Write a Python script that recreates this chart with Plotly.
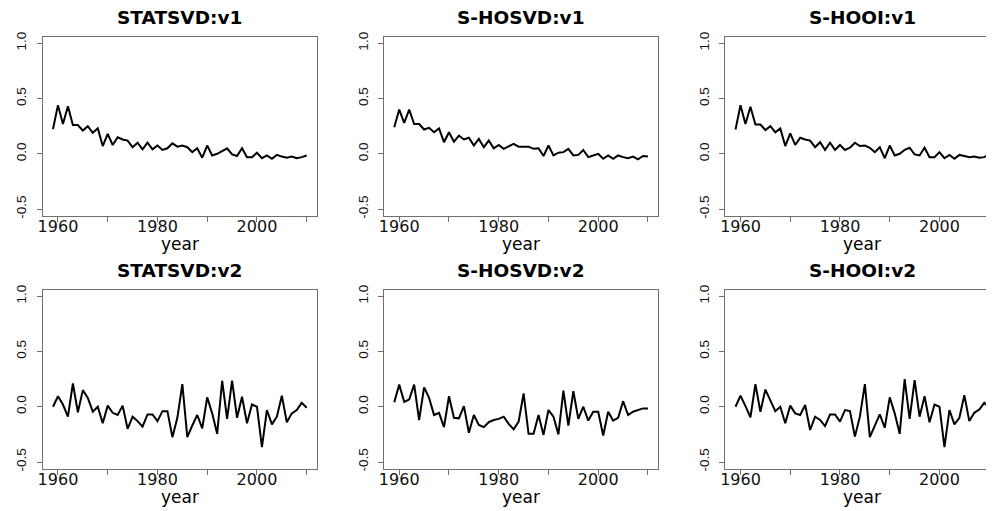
import plotly.graph_objects as go

years = list(range(1959, 2011))

statsvd_v1 = [0.223, 0.44, 0.27, 0.43, 0.26, 0.26, 0.21, 0.25, 0.19, 0.23,
              0.07, 0.18, 0.08, 0.15, 0.13, 0.12, 0.06, 0.10, 0.04, 0.10,
              0.04, 0.075, 0.035, 0.05, 0.095, 0.065, 0.075, 0.06, 0.015, 0.05,
              -0.035, 0.075, -0.015, 0.0, 0.025, 0.05, -0.005, -0.02, 0.05, -0.03,
              -0.03, 0.01, -0.04, -0.015, -0.045, -0.01, -0.025, -0.035, -0.025, -0.04,
              -0.03, -0.015]
shosvd_v1 = [0.24, 0.40, 0.28, 0.40, 0.27, 0.27, 0.22, 0.235, 0.195, 0.23,
             0.105, 0.195, 0.11, 0.165, 0.13, 0.145, 0.075, 0.135, 0.06, 0.12,
             0.05, 0.08, 0.045, 0.065, 0.09, 0.065, 0.065, 0.065, 0.045, 0.05,
             -0.02, 0.075, -0.015, 0.01, 0.015, 0.045, -0.015, -0.01, 0.035, -0.03,
             -0.015, 0.0, -0.045, -0.015, -0.045, -0.015, -0.03, -0.04, -0.025, -0.05,
             -0.02, -0.025]
shooi_v1 = [0.22, 0.44, 0.27, 0.425, 0.265, 0.265, 0.215, 0.25, 0.195, 0.23,
            0.07, 0.185, 0.08, 0.145, 0.13, 0.12, 0.06, 0.105, 0.035, 0.10,
            0.035, 0.08, 0.035, 0.055, 0.10, 0.07, 0.075, 0.055, 0.015, 0.06,
            -0.04, 0.075, -0.015, 0.0, 0.035, 0.055, -0.005, -0.015, 0.055, -0.03,
            -0.03, 0.015, -0.04, -0.01, -0.045, -0.01, -0.02, -0.03, -0.025, -0.035,
            -0.03, -0.005]
statsvd_v2 = [0.0, 0.095, 0.02, -0.09, 0.21, -0.05, 0.15, 0.08, -0.045, 0.0,
              -0.15, 0.01, -0.055, -0.075, 0.01, -0.20, -0.09, -0.13, -0.18, -0.07,
              -0.07, -0.13, -0.04, -0.04, -0.275, -0.10, 0.205, -0.275, -0.17, -0.075,
              -0.195, 0.085, -0.06, -0.245, 0.235, -0.11, 0.235, -0.10, 0.09, -0.15,
              0.02, 0.0, -0.365, -0.03, -0.16, -0.09, 0.10, -0.14, -0.06, -0.03,
              0.035, -0.01]
shosvd_v2 = [0.04, 0.20, 0.045, 0.065, 0.20, -0.12, 0.175, 0.08, -0.075, -0.055,
             -0.185, 0.095, -0.10, -0.105, 0.005, -0.235, -0.075, -0.165, -0.185, -0.14,
             -0.12, -0.11, -0.09, -0.155, -0.205, -0.135, 0.12, -0.245, -0.245, -0.075,
             -0.255, -0.03, -0.09, -0.25, 0.145, -0.17, 0.14, -0.11, 0.0, -0.125,
             -0.045, -0.045, -0.26, -0.045, -0.125, -0.10, 0.05, -0.075, -0.045, -0.03,
             -0.015, -0.015]
shooi_v2 = [0.0, 0.10, 0.005, -0.095, 0.205, -0.045, 0.155, 0.065, -0.04, 0.0,
            -0.15, 0.01, -0.06, -0.075, 0.015, -0.21, -0.09, -0.12, -0.175, -0.07,
            -0.07, -0.135, -0.03, -0.04, -0.27, -0.09, 0.205, -0.275, -0.165, -0.07,
            -0.19, 0.085, -0.06, -0.245, 0.25, -0.11, 0.24, -0.09, 0.095, -0.14,
            0.02, 0.0, -0.365, -0.03, -0.16, -0.10, 0.105, -0.13, -0.055, -0.025,
            0.035, -0.01]

titles = ["STATSVD:v1", "S-HOSVD:v1", "S-HOOI:v1",
          "STATSVD:v2", "S-HOSVD:v2", "S-HOOI:v2"]
series = [statsvd_v1, shosvd_v1, shooi_v1, statsvd_v2, shosvd_v2, shooi_v2]

x_tickvals = [1960, 1970, 1980, 1990, 2000, 2010]
x_ticktext = ["1960", "", "1980", "", "2000", ""]
y_tickvals = [-0.5, 0.0, 0.5, 1.0]
y_ticktext = ["-0.5", "0.0", "0.5", "1.0"]
x_label = "year"

# page is rendered with an 8px body margin: work in page pixels, shift by OFF
OFF = 8
PAGE_W, PAGE_H = 994, 511
W, H = PAGE_W - OFF, PAGE_H - OFF
PX_PER_YEAR = 5.0
X0, X1 = 1956.96, 2012.04
col_left = [38, 381, 724]       # page px
row_top = [32, 289]             # page px
box_h = 182
YR = [-0.56, 1.06]


def fx(px):
    return (px - OFF) / W


def fy(py):
    return 1 - (py - OFF) / H


fig = go.Figure()
axcol = "#707070"
for i, (t, ys) in enumerate(zip(titles, series)):
    r, c = divmod(i, 3)
    left = col_left[c]
    full_right = left + (X1 - X0) * PX_PER_YEAR
    right = min(full_right, PAGE_W)
    xmax = X0 + (right - left) / PX_PER_YEAR
    top = row_top[r]
    bot = top + box_h
    n = i + 1
    xa = "x" if n == 1 else f"x{n}"
    ya = "y" if n == 1 else f"y{n}"
    fig.add_trace(go.Scatter(x=years, y=ys, mode="lines",
                             line=dict(color="black", width=2),
                             xaxis=xa, yaxis=ya, showlegend=False,
                             hoverinfo="skip"))
    xkey = "xaxis" if n == 1 else f"xaxis{n}"
    ykey = "yaxis" if n == 1 else f"yaxis{n}"
    fig.update_layout({
        xkey: dict(domain=[fx(left), min(fx(right), 1.0)], anchor=ya,
                   range=[X0, xmax],
                   showgrid=False, zeroline=False, showline=True,
                   linecolor=axcol, linewidth=1.2, mirror=True,
                   ticks="outside", ticklen=5, tickwidth=1, tickcolor=axcol,
                   tickvals=x_tickvals, ticktext=x_ticktext,
                   tickfont=dict(family="DejaVu Sans", size=16, color="#111"),
                   ticklabelstandoff=-9),
        ykey: dict(domain=[fy(bot), fy(top)], anchor=xa, range=YR,
                   showgrid=False, zeroline=False, showline=True,
                   linecolor=axcol, linewidth=1.2, mirror=(c != 2),
                   ticks="outside", ticklen=5, tickwidth=1, tickcolor=axcol,
                   tickvals=y_tickvals, ticktext=y_ticktext, tickangle=-90,
                   tickfont=dict(family="Liberation Sans", size=13.5, color="#111"),
                   ticklabelstandoff=5),
    })
    cx = fx((left + full_right) / 2)
    fig.add_annotation(text=f"<b>{t}</b>", x=cx, y=fy(top - 19),
                       xref="paper", yref="paper", xanchor="center",
                       yanchor="middle", showarrow=False,
                       font=dict(family="DejaVu Sans", size=18.5, color="black"))
    fig.add_annotation(text=x_label, x=cx, y=fy(bot + 29),
                       xref="paper", yref="paper", xanchor="center",
                       yanchor="middle", showarrow=False,
                       font=dict(family="DejaVu Sans", size=17, color="black"))

fig.update_layout(width=W, height=H, margin=dict(l=0, r=0, t=0, b=0),
                  paper_bgcolor="white", plot_bgcolor="white")
fig.write_html("out.html")
